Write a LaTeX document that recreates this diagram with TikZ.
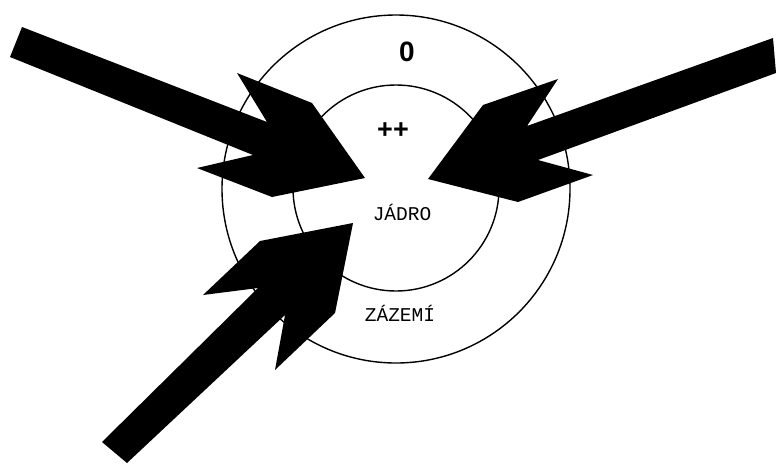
\documentclass[tikz,border=0pt]{standalone}
\usepackage{fontspec}
\setmainfont{Liberation Sans}
\newfontfamily\courierfont{Liberation Mono}
\begin{document}
\begin{tikzpicture}[x=1pt,y=-1pt,
  ring/.style={circle,draw=black,line width=1.4pt,inner sep=0pt},
  bigarrow/.style={fill=black,draw=none},
  signlabel/.style={font=\fontsize{28}{28}\selectfont\bfseries,inner sep=0pt},
  zonelabel/.style={font=\courierfont\fontsize{19.5}{19.5}\selectfont,inner sep=0pt}]
\useasboundingbox (0,0) rectangle (776,464);
\fill[white] (0,0) rectangle (776,464);
% rings
\node[ring,minimum size=348pt] (outer) at (396,189) {};
\node[ring,minimum size=206pt] (inner) at (396,188) {};
% labels
\node[signlabel] (zero) at (407,52) {0};
\node[signlabel,font=\fontsize{27}{27}\selectfont\bfseries] (plus) at (393,131) {++};
\node[zonelabel] (jadro) at (402,212) {JÁDRO};
\node[zonelabel] (zazemi) at (400,313) {ZÁZEMÍ};
% left arrow
\path[bigarrow] (22,27) -- (267,122) -- (237,73) -- (312,103) -- (365,178)
  -- (272,197) -- (197,168) -- (253,155) -- (10,57) -- cycle;
% right arrow
\path[bigarrow] (773,38) -- (527,126) -- (558,79) -- (483,105) -- (428,179)
  -- (518,202) -- (593,175) -- (538,160) -- (776,73) -- cycle;
% bottom arrow
\path[bigarrow] (102,442) -- (258,288) -- (203,295) -- (260,241) -- (353,223)
  -- (335,313) -- (275,370) -- (285,315) -- (127,463) -- cycle;
\end{tikzpicture}
\end{document}
